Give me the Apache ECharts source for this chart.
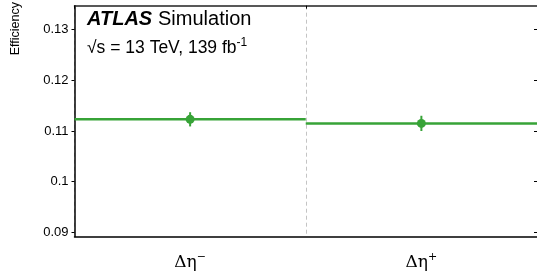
<!DOCTYPE html>
<html>
<head>
<meta charset="utf-8">
<script src="https://cdn.jsdelivr.net/npm/echarts@6/dist/echarts.min.js"></script>
<style>
  html, body { margin: 0; padding: 0; background: #fff; }
  #chart { width: 537px; height: 274px; }
</style>
</head>
<body>
<div id="chart"></div>
<script>
// bins and measured efficiencies
const bins = ['Δη-', 'Δη+'];
const efficiency = [0.1123, 0.1115];
const errors = [0.0014, 0.0015];
const yTicks = [0.09, 0.1, 0.11, 0.12, 0.13];
const yRange = [0.0892, 0.1347];

const green = '#37a337';
const font = 'Liberation Sans, Arial, Helvetica, sans-serif';
const serif = 'DejaVu Serif, Liberation Serif, serif';

const chart = echarts.init(document.getElementById('chart'), null, { renderer: 'canvas' });

const option = {
    animation: false,
    backgroundColor: '#fff',
    grid: { left: 74.5, right: -2, top: 5.7, bottom: 37.5, containLabel: false },
    xAxis: [
        {
            type: 'category',
            data: bins,
            boundaryGap: true,
            axisLine: { show: true, lineStyle: { color: '#000', width: 1.5 } },
            axisTick: { show: false },
            splitLine: { show: true, lineStyle: { color: '#c4c4c4', type: [4, 3], width: 1 } },
            axisLabel: {
                margin: 15,
                formatter: v => '{b|Δη}{s|' + (v.endsWith('-') ? '−' : '+') + '}',
                rich: {
                    b: { fontFamily: serif, fontSize: 17, color: '#000' },
                    s: { fontFamily: serif, fontSize: 11, color: '#000', verticalAlign: 'top', padding: [0, 0, 12, 0] }
                }
            }
        },
        {
            type: 'category',
            data: bins,
            position: 'top',
            boundaryGap: true,
            axisLine: { show: true, lineStyle: { color: '#222', width: 1.5 } },
            axisTick: { show: true, inside: true, length: 3, lineStyle: { color: '#000' } },
            axisLabel: { show: false },
            splitLine: { show: false }
        }
    ],
    yAxis: [
        {
            type: 'value',
            min: yRange[0],
            max: yRange[1],
            splitNumber: 5,
            axisLine: { show: true, lineStyle: { color: '#000', width: 1.5 } },
            axisTick: { show: true, inside: false, length: 3, customValues: yTicks, lineStyle: { color: '#000' } },
            axisLabel: {
                show: true,
                customValues: yTicks,
                margin: 6,
                fontFamily: font,
                fontSize: 13,
                color: '#000',
                formatter: v => String(+v.toFixed(2))
            },
            splitLine: { show: false }
        },
        {
            type: 'value',
            position: 'right',
            min: yRange[0],
            max: yRange[1],
            axisLine: { show: true, lineStyle: { color: '#000' } },
            axisTick: { show: true, inside: true, length: 3, customValues: yTicks, lineStyle: { color: '#000' } },
            axisLabel: { show: false },
            splitLine: { show: false }
        }
    ],
    graphic: [
        {
            type: 'text',
            x: 16,
            y: 2,
            rotation: Math.PI / 2,
            style: {
                text: 'Efficiency',
                fontFamily: font,
                fontSize: 12.5,
                fill: '#000',
                align: 'right',
                verticalAlign: 'middle'
            }
        },
        {
            type: 'text',
            left: 87,
            top: 9,
            style: { text: 'ATLAS', fontFamily: font, fontSize: 20, fontWeight: 'bold', fontStyle: 'italic', fill: '#000' }
        },
        {
            type: 'text',
            left: 158,
            top: 9,
            style: { text: 'Simulation', fontFamily: font, fontSize: 20, fill: '#000' }
        },
        {
            type: 'text',
            left: 87,
            top: 37,
            style: {
                text: '{b|√s = 13 TeV, 139 fb}{s|-1}',
                rich: {
                    b: { fontFamily: font, fontSize: 17.5, fill: '#000' },
                    s: { fontFamily: font, fontSize: 12, fill: '#000', verticalAlign: 'top', padding: [0, 0, 10, 0] }
                }
            }
        }
    ],
    series: [
        {
            type: 'custom',
            xAxisIndex: 0,
            yAxisIndex: 0,
            data: bins.map((b, i) => [i, efficiency[i], errors[i]]),
            renderItem: (params, api) => {
                const i = api.value(0);
                const v = api.value(1);
                const e = api.value(2);
                const c = api.coord([i, v]);
                const hi = api.coord([i, v + e]);
                const lo = api.coord([i, v - e]);
                const w = api.size([1, 0])[0];
                return {
                    type: 'group',
                    children: [
                        {
                            type: 'line',
                            shape: { x1: c[0] - w / 2, y1: c[1], x2: c[0] + w / 2, y2: c[1] },
                            style: { stroke: green, lineWidth: 2.5 }
                        },
                        {
                            type: 'line',
                            shape: { x1: c[0], y1: hi[1], x2: c[0], y2: lo[1] },
                            style: { stroke: green, lineWidth: 2 }
                        },
                        {
                            type: 'circle',
                            shape: { cx: c[0], cy: c[1], r: 4.5 },
                            style: { fill: green }
                        }
                    ]
                };
            }
        }
    ]
};

chart.setOption(option);
</script>
</body>
</html>
